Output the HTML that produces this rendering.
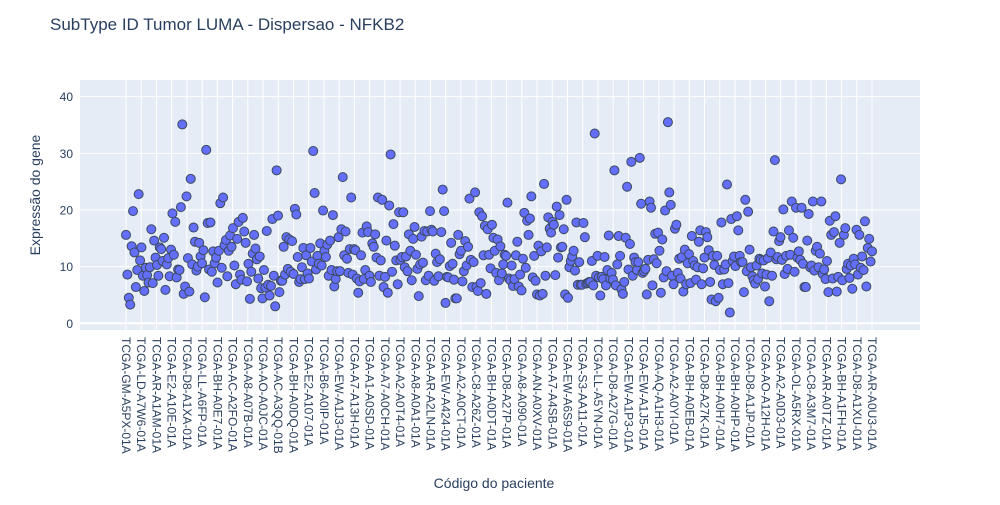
<!DOCTYPE html>
<html><head><meta charset="utf-8">
<style>
body{margin:0;background:#fff;font-family:"Liberation Sans",sans-serif;}
svg text{font-family:"Liberation Sans",sans-serif;fill:#2a3f5f;}
</style></head>
<body>
<svg id="chart" width="1000" height="500">
<rect x="0" y="0" width="1000" height="500" fill="#fff"/>
<rect x="80" y="80" width="840" height="250" fill="#e5ecf6"/>
<g id="grid"></g>
<g id="yticks"></g>
<g id="xticks"></g>
<g id="points"></g>
<text x="50" y="30" font-size="17">SubType ID Tumor LUMA - Dispersao - NFKB2</text>
<text x="0" y="0" font-size="14" text-anchor="middle" transform="translate(40,195) rotate(-90)">Expressão do gene</text>
<text x="494" y="488" font-size="14" text-anchor="middle">Código do paciente</text>
</svg>
<script>
const values = [15.6,8.6,4.5,3.3,13.6,19.8,12.5,6.4,9.4,22.8,11.1,13.4,8.4,5.7,9.8,8.5,7.2,9.9,16.6,7.1,14.6,11.6,10.3,8.4,13.4,13.1,11,15.1,5.9,10.4,11.5,8.3,13,19.4,12.1,17.9,8.1,9.5,9.4,20.5,35.1,5.2,6.5,22.4,11.5,5.6,25.5,10.4,16.9,14.4,9.3,10,14.2,11.8,10.6,12.9,4.6,30.6,17.7,9.5,17.8,9.1,12.7,10.6,11.6,7.2,12.8,21.2,9.8,22.2,13.8,14.7,8.3,12.8,15.5,13.5,16.8,10.2,6.9,14.9,17.9,8.6,7.7,18.6,16.2,
14.2,7.4,10.5,4.3,9.1,12.3,15.6,13.2,11.3,7.9,11.8,6.2,4.4,9.4,6.3,16.3,6.8,4.9,6.6,18.4,8.4,3,27,19,5.5,7.5,7.5,13.5,8.6,15.2,9.6,14.8,9.1,14.5,8.7,20.2,19.2,11.7,7.3,7.8,9.9,13.3,7.8,12,8.8,7.9,13.3,10.9,30.4,23,9.5,11.9,10.5,14.1,10.2,19.9,12.8,11.7,13.9,8.4,14.6,9.4,19.1,6.5,7.8,9.2,15.2,9.2,16.6,25.8,12,16.2,11.4,8.9,13.1,22.2,8.6,13.1,12.9,7.9,5.4,7.4,12,16,7.8,9.4,17.1,
16.1,8.4,7.3,14.1,13.5,15.7,11.6,22.2,8.4,11.1,21.8,6.4,8.2,14.6,5.4,20.8,29.8,9.1,17.5,13.7,11.1,6.9,19.6,11.2,11.7,19.6,9.9,11.8,9.2,15.7,12.8,7.6,14.9,17,12.1,9.6,4.8,10.4,15.3,10.7,16.3,7.6,16.2,8.4,19.8,16.5,16.2,7.5,12.3,10.8,8.3,11.3,16.1,23.6,19.8,3.6,8.2,8.1,10.1,14.2,10.5,7.7,4.4,4.4,15.6,12.2,12.8,7.4,9.2,14.5,10.2,13.5,22,11.2,6.4,10.8,23.1,6.4,5.7,19.6,7.1,18.9,12,17.2,5.2,16.6,12.1,9.7,17.4,
15.1,12.8,8.9,14.8,7.6,13.6,8.8,10.4,12.1,11.9,21.3,7.9,7.6,10.2,6.6,7.8,12,14.4,6.5,8.6,5.8,11.4,19.5,9.8,18.1,15.6,18.5,22.4,8.1,11.9,7.5,5.1,13.7,4.9,12.7,5.2,24.6,8.4,13.4,18.7,16.7,16,17.9,17.4,8.5,20.6,11.6,19.1,13.4,13.5,16.6,5.1,21.8,4.5,9.9,11,11.8,12.8,9.3,17.8,6.8,10.8,6.8,6.8,17.7,15.2,7,7.1,7.3,7.3,11,6.7,33.5,8.4,11.9,8.1,4.9,8.2,7.8,11.7,6.7,9.4,15.5,7.9,8.9,7.7,27,6.7,10.4,15.4,
11.9,6,5.2,7.3,15.1,24.1,9.5,14,28.5,8.4,11.6,10.8,9.4,10.8,29.2,21.1,8.9,9.2,9.6,5.1,11.2,21.5,20.4,6.7,11.3,15.8,10.6,16,12.8,5.4,14.8,8.1,19.9,9.2,35.5,23.1,20.9,8.4,6.9,16.7,17.4,8.9,11.4,7.9,11.7,5.6,13,6.9,10.6,12.2,7.1,15.4,11,10.2,7.7,9.9,14.4,16.4,6.9,9.7,11.6,16.1,15.2,12.9,7.3,4.2,11.9,10.3,3.9,11.9,4.5,9.4,17.8,6.9,9.5,10.4,24.5,7.1,1.9,18.4,11,11.8,10.1,18.9,16.4,11.9,10.8,10.8,5.5,21.8,
9.2,19.7,13,9.9,8.3,7.6,7,10.2,7.8,11.4,11.2,8.8,11.1,6.5,8.6,11.5,3.9,12.5,8.4,16.2,28.8,11.3,11.7,14.5,15.2,11.2,20.1,8.7,11.9,9.6,16.4,12.1,21.5,15.1,9.1,20.4,11.6,12.7,11.2,20.4,10.5,6.4,6.4,14.6,19.3,9.9,10.2,21.5,9.3,12.8,13.5,9.9,12.3,21.5,8.7,9.5,7.8,11,5.5,18.1,15.6,7.9,16.1,18.9,5.6,8.2,14.2,25.4,7.6,15.6,16.8,9.6,10.5,8,10.2,6.1,11.4,10.4,16.5,8.6,15.6,9.8,11.8,9.4,18,6.5,13.3,14.9,10.9,12.7];
const tickLabels = ["TCGA-GM-A5PX-01A","TCGA-LD-A7W6-01A","TCGA-AR-A1AM-01A","TCGA-E2-A10E-01A","TCGA-D8-A1XA-01A","TCGA-LL-A6FP-01A","TCGA-BH-A0E7-01A","TCGA-AC-A2FO-01A","TCGA-A8-A07B-01A","TCGA-AO-A0JC-01A","TCGA-AC-A3QQ-01B","TCGA-BH-A0DQ-01A","TCGA-E2-A107-01A","TCGA-B6-A0IP-01A","TCGA-EW-A1J3-01A","TCGA-A7-A13H-01A","TCGA-A1-A0SD-01A","TCGA-A7-A0CH-01A","TCGA-A2-A0T4-01A","TCGA-A8-A0A1-01A","TCGA-AR-A2LN-01A","TCGA-EW-A424-01A","TCGA-A2-A0CT-01A","TCGA-C8-A26Z-01A","TCGA-BH-A0DT-01A","TCGA-D8-A27P-01A","TCGA-A8-A090-01A","TCGA-AN-A0XV-01A","TCGA-A7-A4SB-01A","TCGA-EW-A6S9-01A","TCGA-S3-AA11-01A","TCGA-LL-A5YN-01A","TCGA-D8-A27G-01A","TCGA-EW-A1P3-01A","TCGA-EW-A1J5-01A","TCGA-AQ-A1H3-01A","TCGA-A2-A0YI-01A","TCGA-BH-A0EB-01A","TCGA-D8-A27K-01A","TCGA-BH-A0H7-01A","TCGA-BH-A0HP-01A","TCGA-D8-A1JP-01A","TCGA-AO-A12H-01A","TCGA-A2-A0D3-01A","TCGA-OL-A5RX-01A","TCGA-C8-A3M7-01A","TCGA-AR-A0TZ-01A","TCGA-BH-A1FH-01A","TCGA-D8-A1XU-01A","TCGA-AR-A0U3-01A"];
const yTicks = [0,10,20,30,40];

const NS="http://www.w3.org/2000/svg";
const N = values.length;
const X0=126, X1=872;
function xScale(i){ return X0 + (X1-X0)*i/(N-1); }
function yScale(v){ return 323.3 - v*5.666; }
function mk(tag, attrs, parent){ const e=document.createElementNS(NS,tag); for(const k in attrs) e.setAttribute(k,attrs[k]); parent.appendChild(e); return e; }
const grid=document.getElementById('grid'), yt=document.getElementById('yticks'), xt=document.getElementById('xticks'), pts=document.getElementById('points');
yTicks.forEach(t=>{
  const y=yScale(t);
  const l=mk('line',{x1:80,x2:920,y1:y,y2:y,stroke:'#fff','stroke-width':t===0?2:1},grid);
  
  
  const tx=mk('text',{x:73,y:y+4.5,'font-size':12,'text-anchor':'end'},yt);
  tx.textContent=t;
  
  
});
const step=(N-1)/(tickLabels.length-1);
tickLabels.forEach((lab,k)=>{
  const x=xScale(k*step);
  const l=mk('line',{x1:x,x2:x,y1:80,y2:330,stroke:'#fff','stroke-width':1},grid);
  
  
  const tx=mk('text',{x:0,y:0,'font-size':12,transform:`translate(${x-4},337) rotate(90)`},xt);
  tx.textContent=lab;
  
  
});
values.forEach((v,i)=>{
  const c=mk('circle',{cx:xScale(i),cy:yScale(v),r:4.5,fill:'#636efa',stroke:'#3b4a5f','stroke-width':1},pts);
  
  
});
</script>
</body></html>
